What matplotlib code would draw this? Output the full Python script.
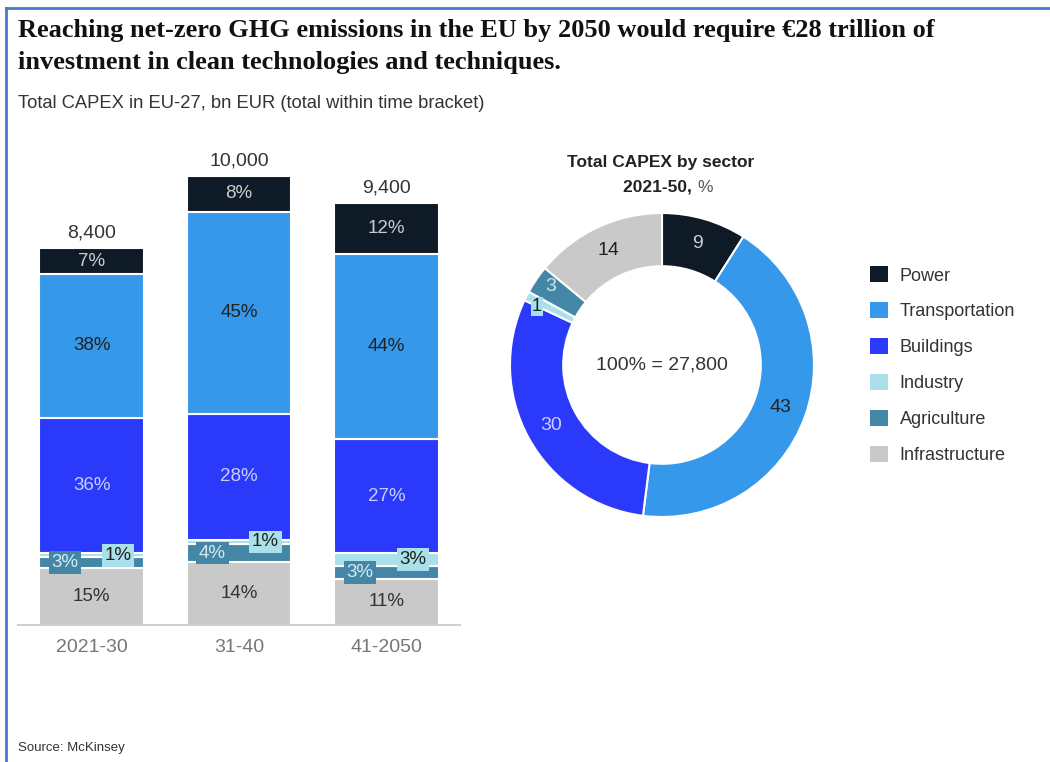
import matplotlib
matplotlib.use("Agg")
import matplotlib.pyplot as plt
from matplotlib.patches import Patch
from matplotlib.lines import Line2D
import numpy as np

# data
periods = ["2021-30", "31-40", "41-2050"]
totals = [8400, 10000, 9400]
sectors = ["Power", "Transportation", "Buildings", "Industry", "Agriculture", "Infrastructure"]
colors = ["#0f1a27", "#3598ea", "#2a39fa", "#a9e0eb", "#4486a6", "#c9c9c9"]
# share of each sector per period, %
share_power = [7, 8, 12]
share_transport = [38, 45, 44]
share_buildings = [36, 28, 27]
share_industry = [1, 1, 3]
share_agriculture = [3, 4, 3]
share_infra = [15, 14, 11]
# donut, total 2021-50, %
donut_share = [9, 43, 30, 1, 3, 14]
donut_total = "27,800"

W, H = 1050, 762
fig = plt.figure(figsize=(W / 100, H / 100), dpi=100)
plt.rcParams['font.family'] = ['Liberation Sans', 'DejaVu Sans']


def box(x0, y0, x1, y1):
    # pixel box (from top-left) -> figure fraction
    return [x0 / W, 1 - y1 / H, (x1 - x0) / W, (y1 - y0) / H]


# frame lines like the screenshot
fig.add_artist(Line2D([6 / W, 6 / W], [0, 1 - 8 / H], color="#4a78cc", lw=2))
fig.add_artist(Line2D([6 / W, 1], [1 - 8 / H, 1 - 8 / H], color="#4a78cc", lw=2))

fig.text(18 / W, 1 - 31 / H,
         "Reaching net-zero GHG emissions in the EU by 2050 would require €28 trillion of",
         family=["Liberation Serif", "DejaVu Serif"], weight="bold", fontsize=19,
         va="center", color="#111111")
fig.text(18 / W, 1 - 62 / H, "investment in clean technologies and techniques.",
         family=["Liberation Serif", "DejaVu Serif"], weight="bold", fontsize=19,
         va="center", color="#111111")
fig.text(18 / W, 1 - 104 / H, "Total CAPEX in EU-27, bn EUR (total within time bracket)",
         fontsize=13.2, va="center", color="#333333")
fig.text(18 / W, 1 - 748 / H, "Source: McKinsey", fontsize=9.5, va="center", color="#333333")

# ---- stacked bars
ax = fig.add_axes(box(18, 176, 460, 625))
stack = [share_infra, share_agriculture, share_industry, share_buildings, share_transport, share_power]
stack_colors = [colors[5], colors[4], colors[3], colors[2], colors[1], colors[0]]
x = range(len(periods))
bottoms = [0, 0, 0]
mids = []
for vals, c in zip(stack, stack_colors):
    h = [v / 100 * t for v, t in zip(vals, totals)]
    ax.bar(x, h, bottom=bottoms, width=0.71, color=c, edgecolor="white", linewidth=1.5)
    mids.append([b + hh / 2 for b, hh in zip(bottoms, h)])
    bottoms = [b + hh for b, hh in zip(bottoms, h)]

text_cols = ["#333333", None, None, "#c9cfff", "#222222", "#c8cdd2"]
for k, (vals, tc) in enumerate(zip(stack, text_cols)):
    if tc is None:
        continue
    for i in x:
        ax.text(i, mids[k][i], f"{vals[i]}%", ha="center", va="center", fontsize=13.5, color=tc)

# small sectors with boxed labels
for i in x:
    ax.text(i - 0.18, mids[1][i], f"{share_agriculture[i]}%", ha="center", va="center",
            fontsize=13.5, color="#d5eaf2",
            bbox=dict(boxstyle="square,pad=0.15", fc=colors[4], ec="none"))
    ax.text(i + 0.18, mids[2][i], f"{share_industry[i]}%", ha="center", va="center",
            fontsize=13.5, color="#222222",
            bbox=dict(boxstyle="square,pad=0.15", fc=colors[3], ec="none"))

for i, t in enumerate(totals):
    ax.text(i, t + 150, f"{t:,}", ha="center", va="bottom", fontsize=14, color="#333333")

ax.set_xlim(-0.5, 2.5)
ax.set_ylim(0, 10000)
ax.set_xticks(list(x))
ax.set_xticklabels(periods, fontsize=14, color="#777777")
ax.tick_params(axis="x", length=0, pad=10)
ax.set_yticks([])
for s in ["top", "right", "left"]:
    ax.spines[s].set_visible(False)
ax.spines["bottom"].set_color("#d0d0d0")
ax.spines["bottom"].set_linewidth(1.5)

# ---- donut
ax2 = fig.add_axes(box(510, 213, 814, 517))
wedges, _ = ax2.pie(donut_share, colors=colors, startangle=90, counterclock=False,
                    radius=1, wedgeprops=dict(width=0.35, edgecolor="white", linewidth=1.5))
ax2.set_xlim(-1, 1)
ax2.set_ylim(-1, 1)
ax2.set_aspect("equal")
ax2.axis("off")

lab_cols = ["#c8cdd2", "#222222", "#c9cfff", "#222222", "#cfe6ef", "#222222"]
lab_r = [0.83, 0.83, 0.83, 0.91, 0.9, 0.83]
lab_shift = [0, 0, 0, 2, -1, 0]  # degrees, to keep the two thin slices apart
for w, v, c, r, d in zip(wedges, donut_share, lab_cols, lab_r, lab_shift):
    ang = np.deg2rad((w.theta1 + w.theta2) / 2 + d)
    kw = {"fontsize": 14}
    if v == 1:
        kw["bbox"] = dict(boxstyle="square,pad=0.05", fc=colors[3], ec="none")
        kw["fontsize"] = 13
    ax2.text(r * np.cos(ang), r * np.sin(ang), str(v), ha="center", va="center",
             color=c, **kw)
ax2.text(0, 0, f"100% = {donut_total}", ha="center", va="center", fontsize=14, color="#333333")

fig.text(661 / W, 1 - 163 / H, "Total CAPEX by sector", ha="center", va="center",
         fontsize=12.5, weight="bold", color="#222222")
fig.text(697 / W, 1 - 187 / H, "2021-50, ", ha="right", va="center",
         fontsize=12.5, weight="bold", color="#222222")
fig.text(697 / W, 1 - 187 / H, "%", ha="left", va="center", fontsize=12.5, color="#555555")

# ---- legend
handles = [Patch(facecolor=c, edgecolor="none", label=s) for s, c in zip(sectors, colors)]
fig.legend(handles=handles, loc="upper left", bbox_to_anchor=(854 / W, 1 - 250 / H),
           frameon=False, fontsize=13, handlelength=1.0, handleheight=1.0,
           labelspacing=0.98, handletextpad=0.62, labelcolor="#333333")

fig.savefig("out.png", dpi=100)
